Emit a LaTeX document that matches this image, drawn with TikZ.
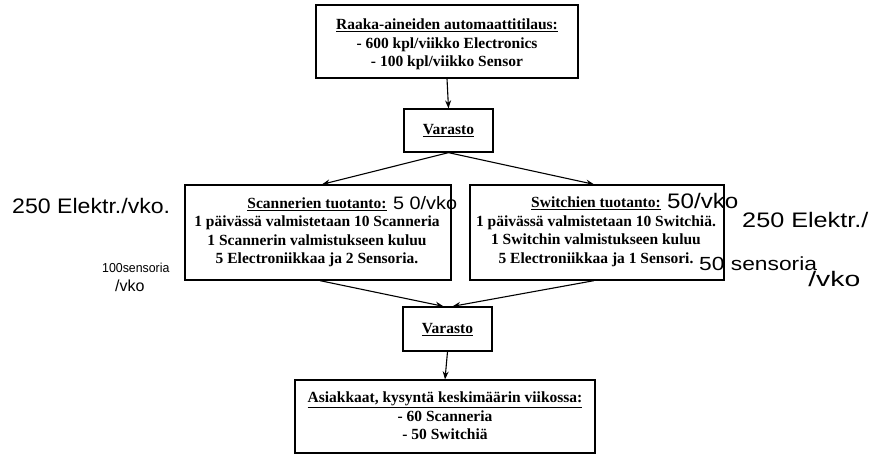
\documentclass[tikz,border=0pt]{standalone}
\usepackage{fontspec}
\setmainfont{Liberation Serif}
\newfontfamily\handfont{Liberation Sans}
\usetikzlibrary{arrows.meta}

\begin{document}
\begin{tikzpicture}[x=1pt,y=-1pt,
  box/.style={draw, line width=1.3pt, inner sep=0pt},
  boxtext/.style={inner sep=0pt, align=center,
    font=\fontsize{15.5}{18.5}\selectfont\bfseries},
  flow/.style={line width=1.1pt, -{Stealth[length=8pt,width=6pt]}},
  hand/.style={font=\handfont\fontsize{21}{23}\selectfont, inner sep=0pt, anchor=west},
  smallhand/.style={font=\handfont\fontsize{13}{15}\selectfont, inner sep=0pt, anchor=west}]
\useasboundingbox (0,0) rectangle (873,455);

% boxes of the flow
\node[box, minimum width=262pt, minimum height=73pt] (order) at (447,41.5) {};
\node[boxtext] (ordertxt) at (447,44.5)
  {\underline{Raaka-aineiden automaattitilaus:}\\- 600 kpl/viikko Electronics\\- 100 kpl/viikko Sensor};
\node[box, minimum width=89pt, minimum height=43pt] (v1) at (448.5,130.5) {};
\node[boxtext] (v1txt) at (448.5,131) {\underline{Varasto}};
\node[box, minimum width=266pt, minimum height=95pt] (scan) at (318,232.5) {};
\node[boxtext] (scantxt) at (317,232.5)
  {\underline{Scannerien tuotanto:}\\1 päivässä valmistetaan 10 Scanneria\\1 Scannerin valmistukseen kuluu\\5 Electroniikkaa ja 2 Sensoria.};
\node[box, minimum width=254pt, minimum height=95pt] (switch) at (597,232.5) {};
\node[boxtext] (switchtxt) at (596,232)
  {\underline{Switchien tuotanto:}\\1 päivässä valmistetaan 10 Switchiä.\\1 Switchin valmistukseen kuluu\\5 Electroniikkaa ja 1 Sensori.};
\node[box, minimum width=89pt, minimum height=44pt] (v2) at (447.5,329) {};
\node[boxtext] (v2txt) at (447.5,329.5) {\underline{Varasto}};
\node[box, minimum width=300pt, minimum height=73pt] (cust) at (445,416.5) {};
\node[boxtext] (custtxt) at (445,416)
  {\underline{Asiakkaat, kysyntä keskimäärin viikossa:}\\- 60 Scanneria\\- 50 Switchiä};

% connectors
\draw[flow] (order.south) -- (v1.north);
\draw[flow] (v1.south) -- ([xshift=4pt]scan.north);
\draw[flow] (v1.south) -- ([xshift=-3pt]switch.north);
\draw[flow] ([xshift=2pt]scan.south) -- ([xshift=-4pt]v2.north);
\draw[flow] ([xshift=-3pt]switch.south) -- ([xshift=5pt]v2.north);
\draw[flow] (v2.south) -- (cust.north);

% handwritten notes
\node[hand, xscale=1.1] (h1) at (12,206) {250 Elektr./vko.};
\node[smallhand, xscale=0.95] (h2) at (102,268) {100sensoria};
\node[hand, font=\handfont\fontsize{16}{18}\selectfont] (h3) at (115,286) {/vko};
\node[hand, font=\handfont\fontsize{18}{20}\selectfont, xscale=1.1] (h4) at (393,203) {5 0/vko};
\node[hand, xscale=1.15] (h5) at (667,201) {50/vko};
\node[hand, xscale=1.2] (h6) at (742,220) {250 Elektr./};
\node[hand, font=\handfont\fontsize{19}{21}\selectfont, xscale=1.2] (h7) at (699,264) {50 sensoria};
\node[hand, font=\handfont\fontsize{21}{23}\selectfont, xscale=1.35] (h8) at (808,279) {/vko};
\end{tikzpicture}
\end{document}
